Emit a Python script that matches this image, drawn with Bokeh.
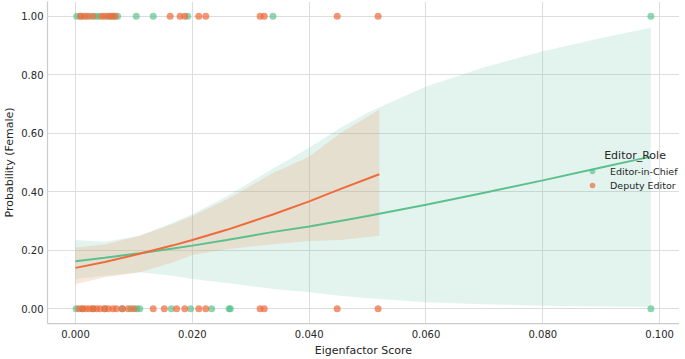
from bokeh.plotting import figure
from bokeh.models import Legend, LegendItem, FixedTicker, PrintfTickFormatter, Range1d, Label
from bokeh.embed import file_html
from bokeh.resources import INLINE

# --- data ---
chief_x1 = [0.0002, 0.0010, 0.0025, 0.0035, 0.0040, 0.0055, 0.0065, 0.0072, 0.0104, 0.0133, 0.0192, 0.0338, 0.0985]
chief_x0 = [0.0001, 0.0012, 0.0030, 0.0050, 0.0080, 0.0095, 0.0105, 0.0110, 0.0164, 0.0197, 0.0233, 0.0263, 0.0265, 0.0985]
deputy_x1 = [0.0008, 0.0015, 0.0020, 0.0030, 0.0045, 0.0050, 0.0058, 0.0062, 0.0068, 0.0162, 0.0179, 0.0187,
             0.0211, 0.0223, 0.0316, 0.0323, 0.0448, 0.0518]
deputy_x0 = [0.0006, 0.0012, 0.0018, 0.0024, 0.0030, 0.0036, 0.0042, 0.0050, 0.0056, 0.0064, 0.0070, 0.0080,
             0.0090, 0.0100, 0.0133, 0.0152, 0.0173, 0.0187, 0.0211, 0.0223, 0.0316, 0.0323, 0.0448, 0.0518]

chief_fit_x = [0.0, 0.005, 0.011, 0.0167, 0.02, 0.0259, 0.0339, 0.04, 0.0453, 0.05, 0.06, 0.07, 0.08, 0.09, 0.0985]
chief_fit_p = [0.163, 0.175, 0.190, 0.206, 0.216, 0.235, 0.263, 0.281, 0.300, 0.317, 0.356, 0.397, 0.439, 0.483, 0.520]
chief_lo = [0.102, 0.113, 0.125, 0.113, 0.102, 0.088, 0.068, 0.057, 0.045, 0.036, 0.023, 0.016, 0.011, 0.008, 0.006]
chief_hi = [0.235, 0.229, 0.250, 0.295, 0.323, 0.385, 0.480, 0.550, 0.618, 0.670, 0.760, 0.825, 0.880, 0.925, 0.960]

deputy_fit_x = [0.0, 0.005, 0.011, 0.0167, 0.02, 0.0259, 0.0339, 0.04, 0.0453, 0.052]
deputy_fit_p = [0.140, 0.160, 0.188, 0.217, 0.235, 0.270, 0.323, 0.367, 0.409, 0.460]
deputy_lo = [0.085, 0.108, 0.125, 0.159, 0.184, 0.204, 0.221, 0.232, 0.235, 0.250]
deputy_hi = [0.210, 0.220, 0.250, 0.290, 0.317, 0.374, 0.465, 0.520, 0.600, 0.680]

y_ticks = [0.0, 0.2, 0.4, 0.6, 0.8, 1.0]
x_ticks = [0.0, 0.02, 0.04, 0.06, 0.08, 0.10]

GREEN = "#52c08a"
ORANGE = "#f0693a"
TXT = "#262626"

p = figure(frame_width=632, frame_height=322, output_backend="svg", toolbar_location=None,
           x_range=Range1d(-0.0048, 0.1034), y_range=Range1d(-0.05, 1.05),
           min_border_left=0, min_border_right=0, min_border_top=1, min_border_bottom=0)
p.outline_line_color = None

# bands
p.varea(x=chief_fit_x, y1=chief_lo, y2=chief_hi, fill_color="#66c2a5", fill_alpha=0.18)
p.varea(x=deputy_fit_x, y1=deputy_lo, y2=deputy_hi, fill_color="#e8a070", fill_alpha=0.25)

# points
r_c1 = p.scatter(x=chief_x1, y=[1.0] * len(chief_x1), size=7, fill_color=GREEN, fill_alpha=0.65, line_color=None)
p.scatter(x=chief_x0, y=[0.0] * len(chief_x0), size=7, fill_color=GREEN, fill_alpha=0.65, line_color=None)
r_d1 = p.scatter(x=deputy_x1, y=[1.0] * len(deputy_x1), size=7, fill_color=ORANGE, fill_alpha=0.7, line_color=None)
p.scatter(x=deputy_x0, y=[0.0] * len(deputy_x0), size=7, fill_color=ORANGE, fill_alpha=0.7, line_color=None)

# fitted lines
p.line(x=chief_fit_x, y=chief_fit_p, line_color="#5cc08e", line_width=2)
p.line(x=deputy_fit_x, y=deputy_fit_p, line_color="#f06a3c", line_width=2)

# axes
for ax in (p.xaxis, p.yaxis):
    ax.axis_line_color = "#cccccc"
    ax.axis_line_width = 1.25
    ax.major_tick_line_color = None
    ax.minor_tick_line_color = None
    ax.major_tick_out = 0
    ax.major_tick_in = 0
    ax.minor_tick_out = 0
    ax.minor_tick_in = 0
    ax.major_label_text_font = "DejaVu Sans"
    ax.major_label_text_font_size = "10px"
    ax.major_label_text_color = TXT
    ax.axis_label_text_font = "DejaVu Sans"
    ax.axis_label_text_font_size = "11px"
    ax.axis_label_text_font_style = "normal"
    ax.axis_label_text_color = TXT
p.xaxis.ticker = FixedTicker(ticks=x_ticks)
p.yaxis.ticker = FixedTicker(ticks=y_ticks)
p.xaxis.formatter = PrintfTickFormatter(format="%.3f")
p.yaxis.formatter = PrintfTickFormatter(format="%.2f")
p.xaxis.axis_label = "Eigenfactor Score"
p.yaxis.axis_label = "Probability (Female)"
p.xaxis.major_label_standoff = 6
p.yaxis.major_label_standoff = 4
p.xaxis.axis_label_standoff = 3
p.yaxis.axis_label_standoff = 2

p.xgrid.grid_line_color = "#dddddd"
p.ygrid.grid_line_color = "#dddddd"
p.xgrid.ticker = FixedTicker(ticks=x_ticks)
p.ygrid.ticker = FixedTicker(ticks=y_ticks)

legend = Legend(items=[LegendItem(label="Editor-in-Chief", renderers=[r_c1]),
                       LegendItem(label="Deputy Editor", renderers=[r_d1])],
                location=(538, 131), padding=0, margin=0, spacing=0,
                label_height=14, glyph_height=14, glyph_width=14, label_standoff=11,
                label_text_font="DejaVu Sans", label_text_font_size="9.5px", label_text_color=TXT,
                background_fill_alpha=0, border_line_alpha=0)
p.add_layout(legend)
p.add_layout(Label(x=0.0905, y=0.525, text="Editor_Role", text_font="DejaVu Sans",
                   text_font_size="11px", text_color=TXT, text_baseline="middle"))

open("out.html", "w").write(file_html(p, INLINE))
